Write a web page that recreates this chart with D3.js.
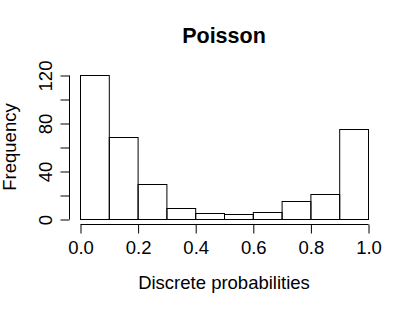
<!DOCTYPE html>
<html>
<head>
<meta charset="utf-8">
<script src="https://cdn.jsdelivr.net/npm/d3@7"></script>
<style>
  body { margin: 0; background: #fff; }
  svg text { font-family: "Liberation Sans", Arial, sans-serif; fill: #000; }
</style>
</head>
<body>
<div id="chart"></div>
<script>
// histogram bins (0.1 wide) and their counts
const binStarts = [0.0, 0.1, 0.2, 0.3, 0.4, 0.5, 0.6, 0.7, 0.8, 0.9];
const binWidth = 0.1;
const counts = [120, 68, 29, 9, 5, 4, 6, 15, 21, 75];
const xTicks = [0, 0.2, 0.4, 0.6, 0.8, 1.0];
const yTicks = [0, 20, 40, 60, 80, 100, 120];
const yLabels = [0, 40, 80, 120];

const width = 415, height = 311;
const margin = { top: 75, right: 47, bottom: 92, left: 80 };

const svg = d3.select("#chart").append("svg")
  .attr("width", width)
  .attr("height", height);

const x = d3.scaleLinear()
  .domain([0, 1])
  .range([margin.left, width - margin.right]);

const y = d3.scaleLinear()
  .domain([0, 120])
  .range([height - margin.bottom, margin.top]);

// bars
svg.append("g")
  .selectAll("rect")
  .data(binStarts)
  .join("rect")
  .attr("x", (d) => x(d) + 0.5)
  .attr("y", (d, i) => Math.round(y(counts[i])) + 0.5)
  .attr("width", x(binWidth) - x(0))
  .attr("height", (d, i) => Math.round(y(0)) - Math.round(y(counts[i])))
  .attr("fill", "none")
  .attr("stroke", "#000")
  .attr("stroke-width", 1);

// x axis
const xAxis = svg.append("g")
  .attr("transform", `translate(0.5,${Math.round(y(0)) + 5.5})`)
  .call(d3.axisBottom(x).tickValues(xTicks).tickSize(9)
    .tickFormat(d3.format(".1f")));

// y axis
const yAxis = svg.append("g")
  .attr("transform", `translate(${Math.round(x(0)) - 10.5},0.5)`)
  .call(d3.axisLeft(y).tickValues(yTicks).tickSize(9)
    .tickFormat((d) => (yLabels.includes(d) ? d : "")));

[xAxis, yAxis].forEach((g) => {
  g.select(".domain").attr("d", null);
  g.selectAll("line, path").attr("stroke", "#000");
  g.selectAll("text").style("font-size", "18.5px");
});

xAxis.append("line")
  .attr("x1", x(0)).attr("x2", x(1))
  .attr("stroke", "#000");
xAxis.selectAll(".tick text").attr("y", 29.5).attr("dy", 0);

yAxis.append("line")
  .attr("y1", y(0)).attr("y2", y(120))
  .attr("stroke", "#000");
yAxis.selectAll(".tick text")
  .attr("transform", "rotate(-90)")
  .attr("x", 0)
  .attr("y", -18)
  .attr("dy", 0)
  .attr("text-anchor", "middle");

// title and axis titles
svg.append("text")
  .attr("x", (x(0) + x(1)) / 2)
  .attr("y", 42.5)
  .attr("text-anchor", "middle")
  .style("font-size", "21.5px")
  .style("font-weight", "bold")
  .text("Poisson");

svg.append("text")
  .attr("x", (x(0) + x(1)) / 2)
  .attr("y", 289)
  .attr("text-anchor", "middle")
  .style("font-size", "18.5px")
  .text("Discrete probabilities");

svg.append("text")
  .attr("transform", `translate(16,${(y(0) + y(120)) / 2}) rotate(-90)`)
  .attr("text-anchor", "middle")
  .style("font-size", "18.5px")
  .text("Frequency");
</script>
</body>
</html>
